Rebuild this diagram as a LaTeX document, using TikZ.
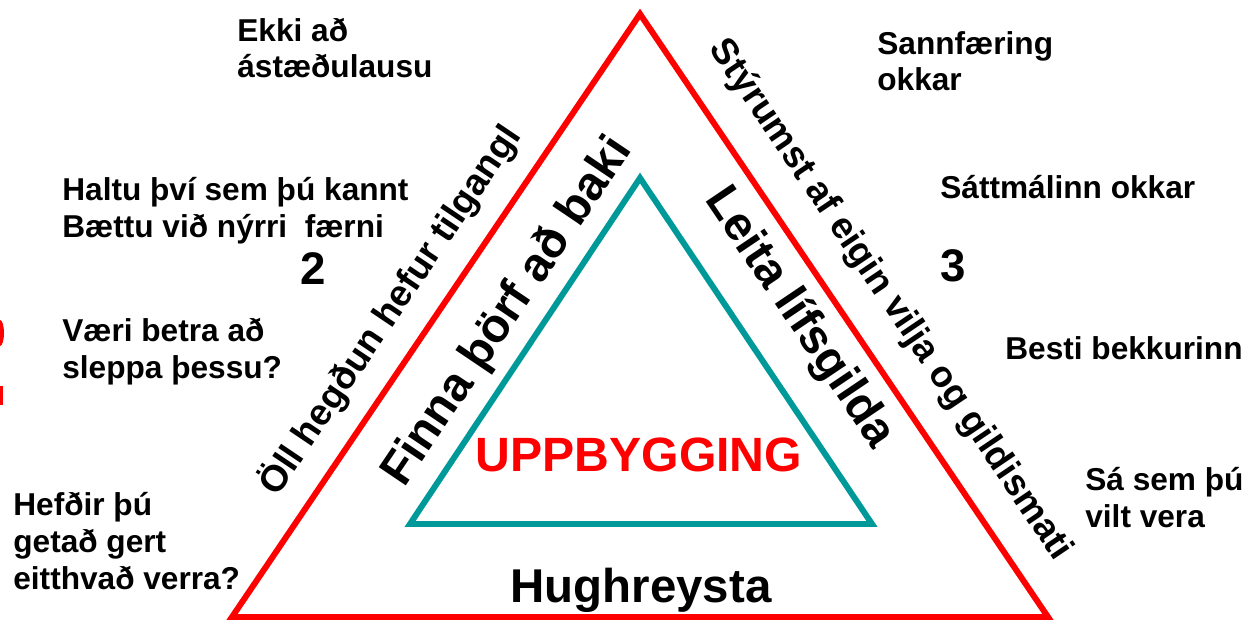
\documentclass[tikz,border=0pt]{standalone}
\usepackage{fontspec}
\setmainfont{Liberation Sans}
\usetikzlibrary{positioning, calc}
\definecolor{framered}{RGB}{255,0,0}
\definecolor{coreteal}{RGB}{0,153,153}

\begin{document}
\begin{tikzpicture}[x=0.02cm, y=-0.02cm,
    edge/.style={line width=3.4pt},
    tip/.style={font=\fontsize{18}{20.8}\selectfont\bfseries, align=left, anchor=base west, inner sep=0pt},
    num/.style={font=\fontsize{26}{30}\selectfont\bfseries, anchor=base, inner sep=0pt},
    rim/.style={font=\fontsize{21}{24}\selectfont\bfseries, inner sep=0pt},
    band/.style={font=\fontsize{27}{30}\selectfont\bfseries, inner sep=0pt},
  ]
  \useasboundingbox (0,0) rectangle (1246,625);
  % outer and inner triangle
  \coordinate (top) at (640,14);
  \coordinate (bl) at (232,617);
  \coordinate (br) at (1048,617);
  \draw[edge, framered] (top) -- (bl) -- (br) -- cycle;
  \coordinate (itop) at (640,178);
  \coordinate (ibl) at (410,524);
  \coordinate (ibr) at (872,524);
  \draw[edge, coreteal] (itop) -- (ibl) -- (ibr) -- cycle;
  % cut-off marks on the left rim
  \fill[framered] (0,333) ellipse (4 and 13);
  \fill[framered] (0,386) rectangle (3,405);
  % texts in the triangle
  \node[font=\fontsize{27.4}{30}\selectfont\bfseries, text=framered, inner sep=0pt] (core) at (639,455) {UPPBYGGING};
  \node[band, anchor=base] (cheer) at (641,602) {Hughreysta};
  \node[band, rotate=56] (need) at (508,312) {Finna þörf að baki};
  \node[band, rotate=-56] (values) at (799,318) {Leita lífsgilda};
  % texts along the rim
  \node[rim, rotate=56] (purpose) at (390,310) {Öll hegðun hefur tilgangl};
  \node[rim, rotate=-56] (will) at (890,300) {Stýrumst af eigin vilja og gildismati};
  % left column
  \node[tip] (reason) at (237,78) {Ekki að\\ástæðulausu};
  \node[tip] (keep) at (62,237) {Haltu því sem þú kannt\\Bættu við nýrri\ \ færni};
  \node[num] (two) at (313,284) {2};
  \node[tip] (skip) at (62,378) {Væri betra að\\sleppa þessu?};
  \node[tip] (worse) at (13,589) {Hefðir þú\\getað gert\\eitthvað verra?};
  % right column
  \node[tip] (belief) at (877,91) {Sannfæring\\okkar};
  \node[tip] (pact) at (940,198) {Sáttmálinn okkar};
  \node[num] (three) at (953,281) {3};
  \node[tip] (best) at (1005,359) {Besti bekkurinn};
  \node[tip] (want) at (1085,527) {Sá sem þú\\vilt vera};
\end{tikzpicture}
\end{document}
